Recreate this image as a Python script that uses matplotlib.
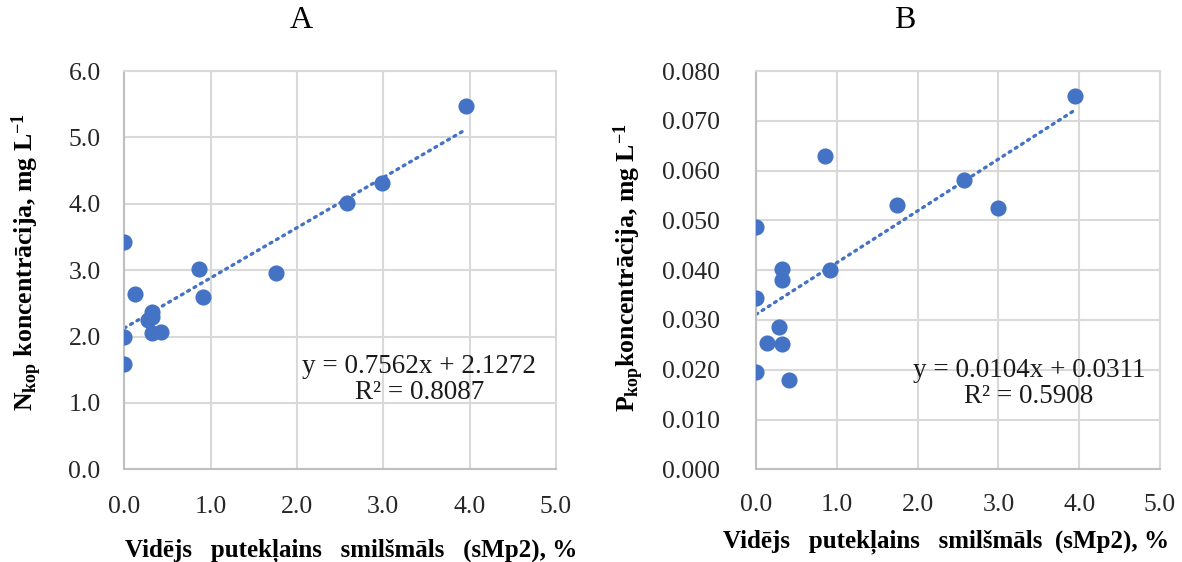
import matplotlib
matplotlib.use("Agg")
import matplotlib.pyplot as plt
import numpy as np

plt.rcParams['font.family'] = ['Liberation Serif', 'DejaVu Serif']
plt.rcParams['mathtext.fontset'] = 'custom'
plt.rcParams['mathtext.rm'] = 'Liberation Serif'
plt.rcParams['mathtext.bf'] = 'Liberation Serif:bold'
plt.rcParams['mathtext.it'] = 'Liberation Serif:italic'

# Panel A data
xa = [3.96, 2.99, 2.58, 0.00, 0.86, 1.76, 0.12, 0.91, 0.32, 0.28, 0.32, 0.32, 0.43, 0.00, 0.00]
ya = [5.48, 4.32, 4.01, 3.43, 3.02, 2.95, 2.64, 2.59, 2.37, 2.25, 2.30, 2.06, 2.07, 2.00, 1.59]
# Panel B data
xb = [3.95, 0.86, 2.58, 1.745, 2.99, 0.00, 0.32, 0.91, 0.32, 0.00, 0.28, 0.13, 0.32, 0.00, 0.41]
yb = [0.0749, 0.0629, 0.0581, 0.0530, 0.0524, 0.0486, 0.0402, 0.0401, 0.0380, 0.0344,
      0.0285, 0.0253, 0.0251, 0.0195, 0.0179]

fit_a = (0.7562, 2.1272)
fit_b = (0.0104, 0.0311)
eq_a = ["y = 0.7562x + 2.1272", "R² = 0.8087"]
eq_b = ["y = 0.0104x + 0.0311", "R² = 0.5908"]

xticks = [0.0, 1.0, 2.0, 3.0, 4.0, 5.0]
yticks_a = [0.0, 1.0, 2.0, 3.0, 4.0, 5.0, 6.0]
yticks_b = [0.000, 0.010, 0.020, 0.030, 0.040, 0.050, 0.060, 0.070, 0.080]

color = '#4472C4'
W, H = 1182, 562
fig = plt.figure(figsize=(W / 100, H / 100), dpi=100)

def make_ax(l, r, b, t):
    return fig.add_axes([l / W, 1 - b / H, (r - l) / W, (b - t) / H])

axA = make_ax(124.3, 556, 469.3, 71)
axB = make_ax(756, 1160, 469.3, 71)

def style(ax, x, y, fit, yticks, yfmt, eq, eqpos, ylabel, ylc, xlabel, xlc, xpad, ypad):
    ax.set_xlim(0, 5)
    ax.set_ylim(yticks[0], yticks[-1])
    ax.set_xticks(xticks)
    ax.set_yticks(yticks)
    ax.set_xticklabels([f"{v:.1f}" for v in xticks])
    ax.set_yticklabels([yfmt.format(v) for v in yticks])
    ax.tick_params(length=0, labelsize=18.5, colors='#262626')
    ax.tick_params(axis='x', pad=xpad)
    ax.tick_params(axis='y', pad=ypad)
    ax.grid(True, color='#d9d9d9', linewidth=1.5)
    ax.set_axisbelow(True)
    for s in ['top', 'right']:
        ax.spines[s].set_color('#d9d9d9')
        ax.spines[s].set_linewidth(1.5)
    for s in ['left', 'bottom']:
        ax.spines[s].set_color('#bfbfbf')
        ax.spines[s].set_linewidth(1.5)
    xs = np.array([min(x), max(x)])
    ax.plot(xs, fit[0] * xs + fit[1], linestyle=(0, (0.6, 1.6)), color=color,
            linewidth=2.4, dash_capstyle='round', zorder=2)
    ax.scatter(x, y, s=135, color=color, zorder=3, linewidths=0)
    ax.text(eqpos[0], eqpos[1], eq[0] + "\n" + eq[1], transform=ax.transAxes,
            ha='center', va='center', fontsize=19.5, linespacing=1.05, color='#1a1a1a')
    ax.set_ylabel(ylabel, fontsize=18.5, fontweight='bold', va='center')
    ax.yaxis.set_label_coords(ylc[0], ylc[1])
    ax.set_xlabel(xlabel, fontsize=18, fontweight='bold', va='center')
    ax.xaxis.set_label_coords(xlc[0], xlc[1])

style(axA, xa, ya, fit_a, yticks_a, "{:.1f}", eq_a, (0.683, 0.225),
      r"$\mathbf{N_{kop}}$" + " koncentrācija, mg L" + r"$^{\mathbf{-1}}$", (-0.225, 0.52),
      "Vidējs   putekļains   smilšmāls   (sMp2), %", (0.525, -0.205), 19, 17)
style(axB, xb, yb, fit_b, yticks_b, "{:.3f}", eq_b, (0.676, 0.215),
      r"$\mathbf{P_{kop}}$" + "koncentrācija, mg L" + r"$^{\mathbf{-1}}$", (-0.316, 0.505),
      "Vidējs   putekļains   smilšmāls  (sMp2), %", (0.47, -0.182), 18, 26)

fig.text(301.7 / W, 1 - 20 / H, "A", fontsize=23, ha='center', va='center')
fig.text(905 / W, 1 - 20 / H, "B", fontsize=23, ha='center', va='center')

fig.savefig("out.png", dpi=100)
